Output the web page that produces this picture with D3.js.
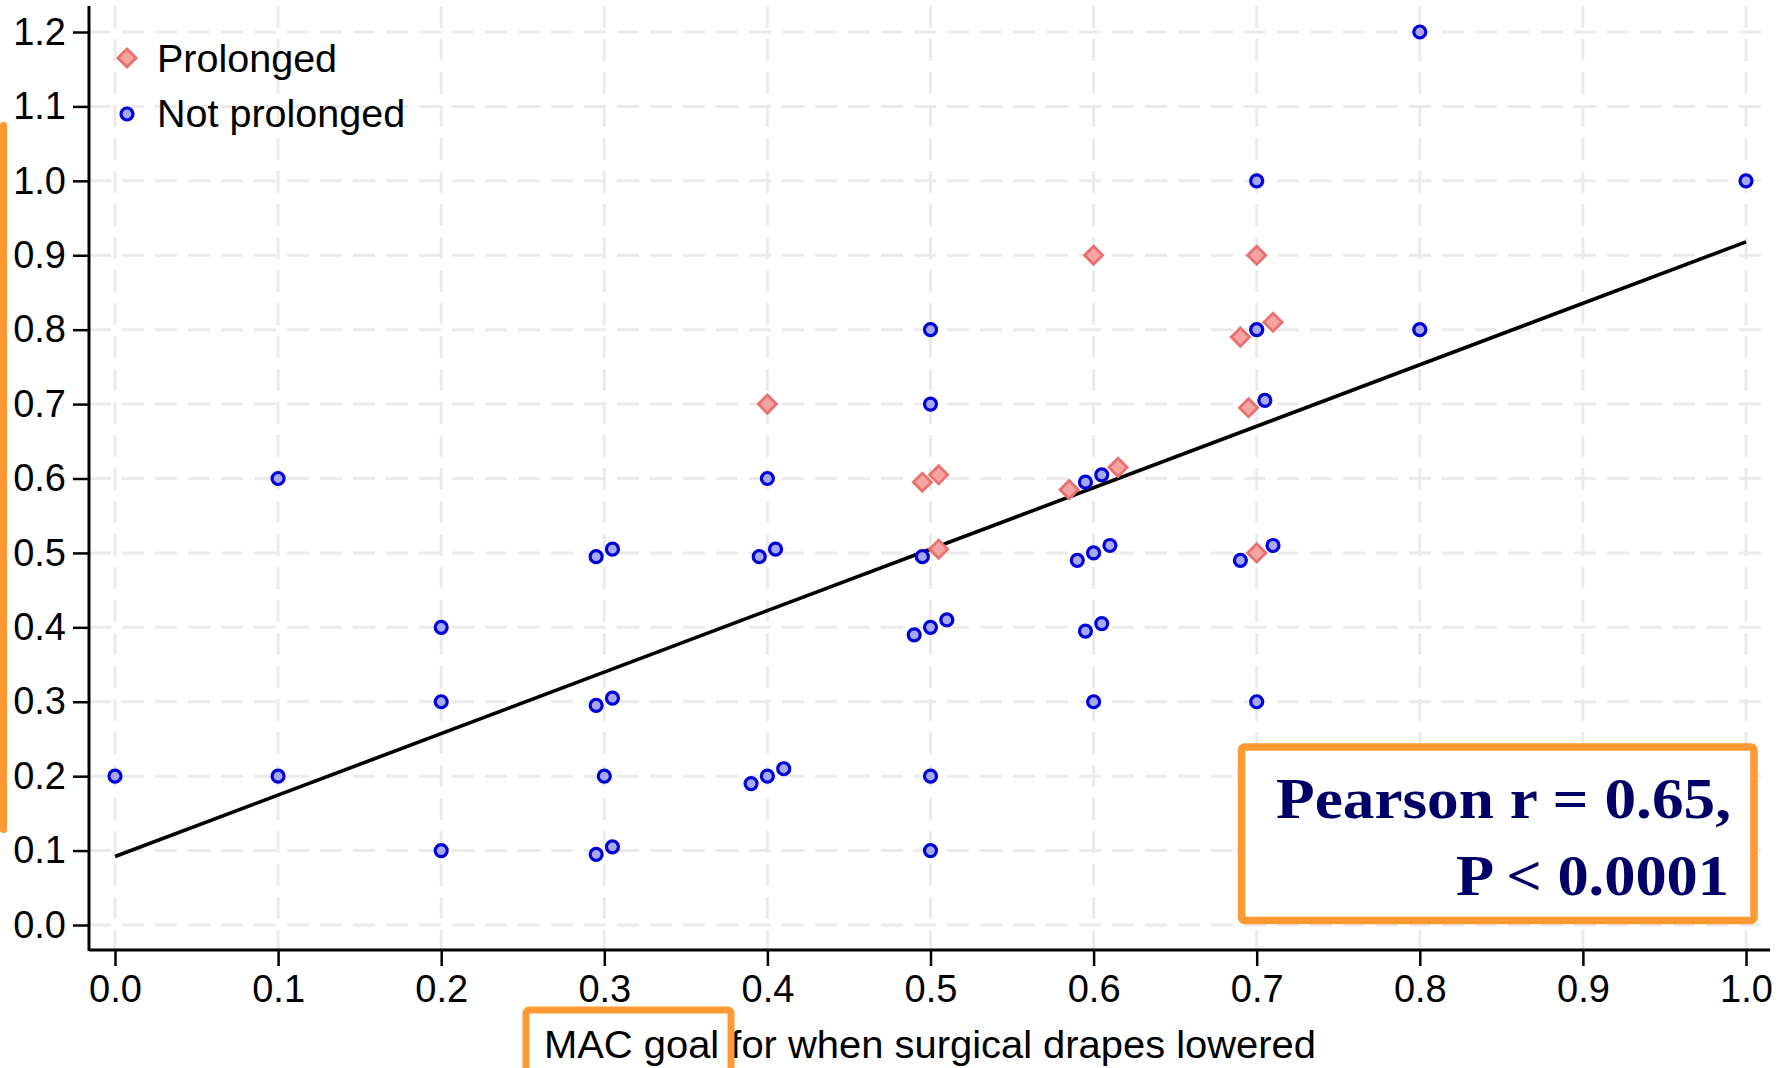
<!DOCTYPE html>
<html>
<head>
<meta charset="utf-8">
<script src="https://cdn.jsdelivr.net/npm/d3@7"></script>
<style>
  html, body { margin: 0; padding: 0; background: #fff; }
  svg { display: block; font-family: "Liberation Sans", Arial, sans-serif; }
</style>
</head>
<body>
<svg id="chart"></svg>
<script>
const width = 1784, height = 1068;

// data
const xTicks = [0.0, 0.1, 0.2, 0.3, 0.4, 0.5, 0.6, 0.7, 0.8, 0.9, 1.0];
const yTicks = [0.0, 0.1, 0.2, 0.3, 0.4, 0.5, 0.6, 0.7, 0.8, 0.9, 1.0, 1.1, 1.2];

// Not prolonged (blue circles), slight jitter as in the picture
const notProlongedX = [0.0, 0.1, 0.1, 0.2, 0.2, 0.2,
  0.295, 0.305, 0.295, 0.305, 0.3, 0.295, 0.305,
  0.4, 0.395, 0.405, 0.39, 0.4, 0.41,
  0.5, 0.5, 0.495, 0.49, 0.5, 0.51, 0.5, 0.5,
  0.595, 0.605, 0.59, 0.6, 0.61, 0.595, 0.605, 0.6,
  0.7, 0.7, 0.705, 0.69, 0.71, 0.7,
  0.8, 0.8, 1.0];
const notProlongedY = [0.2, 0.6, 0.2, 0.4, 0.3, 0.1,
  0.495, 0.505, 0.295, 0.305, 0.2, 0.095, 0.105,
  0.6, 0.495, 0.505, 0.19, 0.2, 0.21,
  0.8, 0.7, 0.495, 0.39, 0.4, 0.41, 0.2, 0.1,
  0.595, 0.605, 0.49, 0.5, 0.51, 0.395, 0.405, 0.3,
  1.0, 0.8, 0.705, 0.49, 0.51, 0.3,
  1.2, 0.8, 1.0];

// Prolonged (red diamonds)
const prolongedX = [0.4, 0.495, 0.505, 0.505, 0.6, 0.585, 0.615, 0.7, 0.69, 0.71, 0.695, 0.7];
const prolongedY = [0.7, 0.595, 0.605, 0.505, 0.9, 0.585, 0.615, 0.9, 0.79, 0.81, 0.695, 0.5];

// fitted line ends
const fitX = [0.0, 1.0];
const fitY = [0.092, 0.918];

const svg = d3.select("#chart")
  .attr("width", width)
  .attr("height", height);

const xScale = d3.scaleLinear().domain([0, 1]).range([115, 1746]);
const yScale = d3.scaleLinear().domain([0, 1.2]).range([925, 32]);

const plotLeft = 89, plotRight = 1770, plotTop = 6, plotBottom = 950;

// Grid lines (dashed, light gray)
const grid = svg.append("g")
  .attr("stroke", "#ebebeb")
  .attr("stroke-width", 3)
  .attr("stroke-dasharray", "22,11");

for (let i = 0; i < xTicks.length; i++) {
  grid.append("line")
    .attr("x1", xScale(xTicks[i]))
    .attr("x2", xScale(xTicks[i]))
    .attr("y1", plotTop)
    .attr("y2", plotBottom);
}
for (let i = 0; i < yTicks.length; i++) {
  grid.append("line")
    .attr("x1", plotLeft)
    .attr("x2", plotRight)
    .attr("y1", yScale(yTicks[i]))
    .attr("y2", yScale(yTicks[i]));
}

// Axes
const xAxis = svg.append("g")
  .attr("transform", "translate(0," + plotBottom + ")")
  .call(d3.axisBottom(xScale).tickValues(xTicks).tickFormat(d3.format(".1f"))
    .tickSize(16).tickPadding(9).tickSizeOuter(0));
xAxis.select(".domain").remove();
xAxis.selectAll("line").attr("stroke", "#000").attr("stroke-width", 2.5);
xAxis.selectAll("text").attr("font-size", 38).attr("fill", "#000")
  .attr("font-family", "Liberation Sans, Arial, sans-serif");

const yAxis = svg.append("g")
  .attr("transform", "translate(" + plotLeft + ",0)")
  .call(d3.axisLeft(yScale).tickValues(yTicks).tickFormat(d3.format(".1f"))
    .tickSize(16).tickPadding(7).tickSizeOuter(0));
yAxis.select(".domain").remove();
yAxis.selectAll("line").attr("stroke", "#000").attr("stroke-width", 2.5);
yAxis.selectAll("text").attr("font-size", 38).attr("fill", "#000")
  .attr("font-family", "Liberation Sans, Arial, sans-serif");

// axis lines
svg.append("line")
  .attr("x1", plotLeft).attr("x2", plotLeft)
  .attr("y1", plotTop).attr("y2", plotBottom + 1)
  .attr("stroke", "#000").attr("stroke-width", 3);
svg.append("line")
  .attr("x1", plotLeft).attr("x2", plotRight)
  .attr("y1", plotBottom).attr("y2", plotBottom)
  .attr("stroke", "#000").attr("stroke-width", 3);

// x axis title
svg.append("text")
  .attr("x", 930)
  .attr("y", 1058)
  .attr("text-anchor", "middle")
  .attr("font-size", 38)
  .attr("textLength", 772)
  .attr("lengthAdjust", "spacingAndGlyphs")
  .text("MAC goal for when surgical drapes lowered");

// Fit line
const fitData = fitX.map((x, i) => ({ x: x, y: fitY[i] }));
svg.append("path")
  .datum(fitData)
  .attr("fill", "none")
  .attr("stroke", "#000")
  .attr("stroke-width", 3.6)
  .attr("d", d3.line().x(d => xScale(d.x)).y(d => yScale(d.y)));

// Points
const blueData = notProlongedX.map((x, i) => ({ x: x, y: notProlongedY[i] }));
const redData = prolongedX.map((x, i) => ({ x: x, y: prolongedY[i] }));

const diamond = d3.symbol().type(d3.symbolSquare).size(165);

svg.append("g")
  .selectAll("path")
  .data(redData)
  .join("path")
  .attr("d", diamond)
  .attr("transform", d => "translate(" + xScale(d.x) + "," + yScale(d.y) + ") rotate(45)")
  .attr("fill", "#f5a4a4")
  .attr("stroke", "#e8706f")
  .attr("stroke-width", 2.8);

svg.append("g")
  .selectAll("circle")
  .data(blueData)
  .join("circle")
  .attr("cx", d => xScale(d.x))
  .attr("cy", d => yScale(d.y))
  .attr("r", 6)
  .attr("fill", "#a8a8f2")
  .attr("stroke", "#0000d8")
  .attr("stroke-width", 3.2);

// Legend
const legend = svg.append("g");
legend.append("path")
  .attr("d", diamond)
  .attr("transform", "translate(127,58) rotate(45)")
  .attr("fill", "#f5a4a4")
  .attr("stroke", "#e8706f")
  .attr("stroke-width", 2.8);
legend.append("text")
  .attr("x", 157).attr("y", 72)
  .attr("font-size", 39.5)
  .text("Prolonged");
legend.append("circle")
  .attr("cx", 127).attr("cy", 114)
  .attr("r", 6)
  .attr("fill", "#a8a8f2")
  .attr("stroke", "#0000d8")
  .attr("stroke-width", 3.2);
legend.append("text")
  .attr("x", 157).attr("y", 127)
  .attr("font-size", 39.5)
  .text("Not prolonged");

// ---------------- orange annotation boxes ----------------
const orange = "#ff9933";

svg.append("rect")
  .attr("x", 0).attr("y", 122)
  .attr("width", 7).attr("height", 711)
  .attr("rx", 3)
  .attr("fill", orange);

svg.append("rect")
  .attr("x", 526).attr("y", 1010)
  .attr("width", 205).attr("height", 90)
  .attr("rx", 3)
  .attr("fill", "none")
  .attr("stroke", orange)
  .attr("stroke-width", 7);

svg.append("rect")
  .attr("x", 1241.5).attr("y", 747)
  .attr("width", 512.5).attr("height", 173.5)
  .attr("rx", 3)
  .attr("fill", "#fff")
  .attr("stroke", orange)
  .attr("stroke-width", 7.5);

const stats = svg.append("g")
  .attr("font-family", "Liberation Serif, 'Times New Roman', serif")
  .attr("font-weight", "bold")
  .attr("font-size", 58)
  .attr("fill", "#000066")
  .attr("text-anchor", "end");
stats.append("text")
  .attr("x", 1731).attr("y", 818)
  .attr("textLength", 455)
  .attr("lengthAdjust", "spacingAndGlyphs")
  .text("Pearson r = 0.65,");
stats.append("text")
  .attr("x", 1729).attr("y", 895)
  .attr("textLength", 273)
  .attr("lengthAdjust", "spacingAndGlyphs")
  .text("P < 0.0001");
</script>
</body>
</html>
